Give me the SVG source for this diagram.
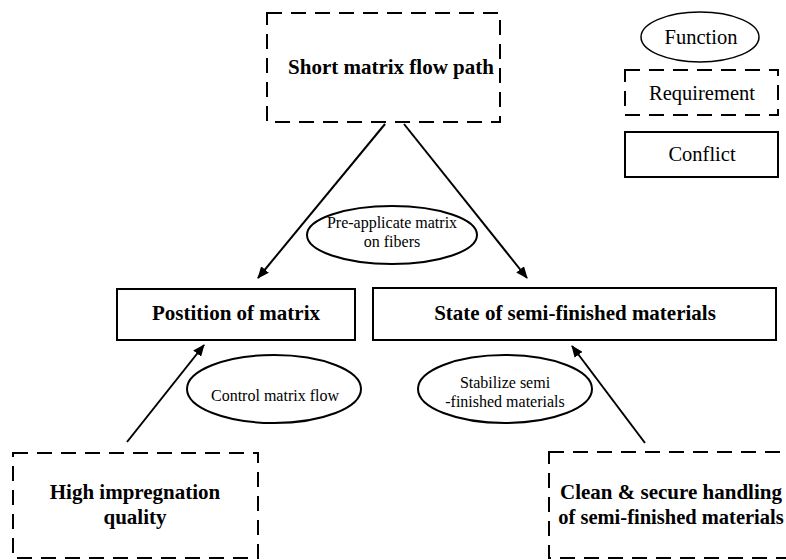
<svg xmlns="http://www.w3.org/2000/svg" width="786" height="560" viewBox="0 0 786 560">
  <defs>
    <marker id="arrow" viewBox="0 0 12 10" refX="11" refY="5" markerWidth="12" markerHeight="10" markerUnits="userSpaceOnUse" orient="auto">
      <path d="M0,0 L12,5 L0,10 Z" fill="#000"/>
    </marker>
    <style>
      .req { fill: #fff; stroke: #000; stroke-width: 2; stroke-dasharray: 15 9; }
      .con { fill: #fff; stroke: #000; stroke-width: 2; }
      .fun { fill: #fff; stroke: #000; stroke-width: 2; }
      .edge { stroke: #000; stroke-width: 2; fill: none; marker-end: url(#arrow); }
      text { font-family: 'Liberation Serif', 'Times New Roman', serif; fill: #000; text-anchor: middle; }
      .title { font-weight: bold; font-size: 21px; }
      .small { font-size: 16px; }
      .legend { font-size: 20.5px; }
    </style>
  </defs>
  <rect width="786" height="560" fill="#fff"/>

  <!-- connectors -->
  <g id="connectors">
    <line class="edge" x1="385" y1="124" x2="258" y2="278"/>
    <line class="edge" x1="404" y1="124" x2="527" y2="278"/>
    <line class="edge" x1="127" y1="442" x2="204" y2="345"/>
    <line class="edge" x1="645" y1="443" x2="572" y2="346"/>
  </g>

  <!-- requirement: short flow path -->
  <g id="short-flow-path">
    <rect class="req" x="267" y="13" width="233" height="109"/>
    <text class="title" x="391" y="74">Short matrix flow path</text>
  </g>

  <!-- function: pre-application -->
  <g id="pre-applicate">
    <ellipse class="fun" cx="392" cy="235" rx="85" ry="29"/>
    <text class="small" x="392" y="228">Pre-applicate matrix</text>
    <text class="small" x="392" y="247">on fibers</text>
  </g>

  <!-- conflicts -->
  <g id="position-of-matrix">
    <rect class="con" x="117" y="289" width="238" height="51"/>
    <text class="title" x="236" y="320">Postition of matrix</text>
  </g>
  <g id="state-of-materials">
    <rect class="con" x="373" y="288" width="403" height="52"/>
    <text class="title" x="575" y="320">State of semi-finished materials</text>
  </g>

  <!-- functions -->
  <g id="control-flow">
    <ellipse class="fun" cx="274" cy="389" rx="87" ry="34"/>
    <text class="small" x="275" y="401">Control matrix flow</text>
  </g>
  <g id="stabilize">
    <ellipse class="fun" cx="505" cy="389" rx="87" ry="34"/>
    <text class="small" x="505" y="388">Stabilize semi</text>
    <text class="small" x="505" y="407">-finished materials</text>
  </g>

  <!-- requirements -->
  <g id="impregnation-quality">
    <rect class="req" x="13" y="453" width="245" height="105"/>
    <text class="title" x="135" y="499">High impregnation</text>
    <text class="title" x="135" y="524">quality</text>
  </g>
  <g id="clean-handling">
    <rect class="req" x="549" y="452" width="260" height="106"/>
    <text class="title" x="671" y="499">Clean &amp; secure handling</text>
    <text class="title" x="671" y="524" style="font-size:20.5px">of semi-finished materials</text>
  </g>

  <!-- legend -->
  <g id="legend-function">
    <ellipse class="fun" cx="700" cy="37" rx="59" ry="25" style="stroke-width:1.5"/>
    <text class="legend" x="701" y="44">Function</text>
  </g>
  <g id="legend-requirement">
    <rect class="req" x="625" y="70" width="153" height="45"/>
    <text class="legend" x="702" y="100">Requirement</text>
  </g>
  <g id="legend-conflict">
    <rect class="con" x="625" y="132" width="153" height="45"/>
    <text class="legend" x="702" y="161">Conflict</text>
  </g>
</svg>
